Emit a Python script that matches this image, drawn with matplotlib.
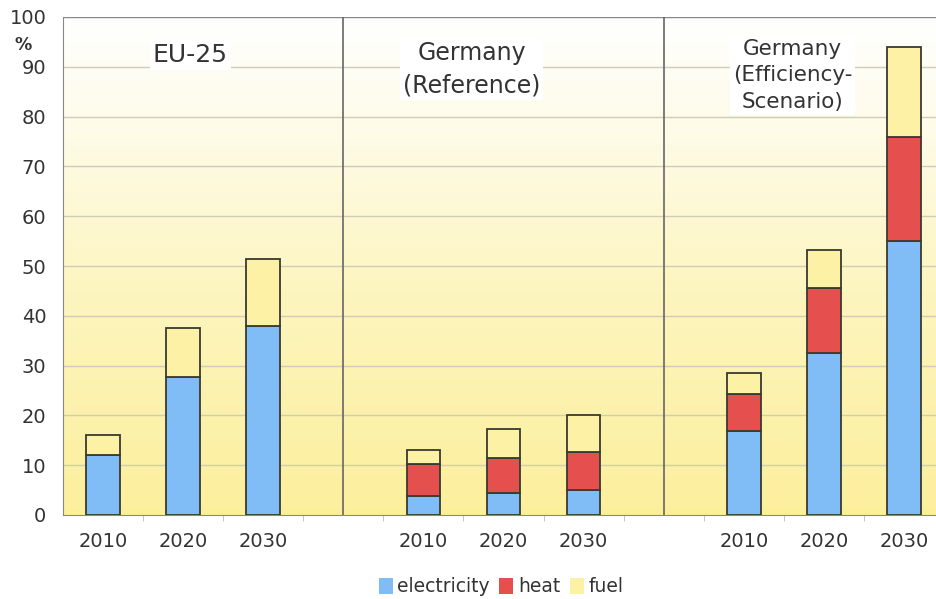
import numpy as np
import matplotlib.pyplot as plt
from matplotlib.colors import LinearSegmentedColormap
from matplotlib.patches import Patch

# ==== DATA ====
YEARS = ["2010", "2020", "2030"]
GROUPS = ["EU-25", "Germany\n(Reference)", "Germany\n(Efficiency-\nScenario)"]
ELECTRICITY = [12.0, 27.7, 38.0, 3.8, 4.5, 5.0, 16.8, 32.5, 55.0]
HEAT = [0.0, 0.0, 0.0, 6.4, 7.0, 7.7, 7.4, 13.0, 21.0]
FUEL = [4.0, 9.8, 13.5, 2.8, 5.8, 7.3, 4.3, 7.8, 18.0]

# ==== STYLE ====
C_ELEC = "#80bdf7"
C_HEAT = "#e5504e"
C_FUEL = "#fdf1a6"
EDGE = "#3a3a30"
TXT = "#333333"

# positions: 3 bars per group, one empty slot between groups
pos = []
for g in range(3):
    for i in range(3):
        pos.append(g * 4 + i)
pos = np.array(pos)
elec = np.array(ELECTRICITY)
heat = np.array(HEAT)
fuel = np.array(FUEL)

fig = plt.figure(figsize=(9.36, 5.99), dpi=100)
ax = fig.add_axes([63 / 936, 1 - 515 / 599, 1 - 63 / 936 + 8 / 936, (515 - 17) / 599])
ax.set_xlim(-0.5, 10.5)
ax.set_ylim(0, 100)

# background gradient (white at top, yellow at bottom)
cmap = LinearSegmentedColormap.from_list(
    "bg", [(0, "#fcef9c"), (0.45, "#fdf5bf"), (0.75, "#fefbe6"), (1, "#ffffff")])
grad = np.linspace(0, 1, 256).reshape(-1, 1)
ax.imshow(grad, aspect="auto", cmap=cmap, extent=[-0.5, 10.5, 0, 100],
          origin="lower", zorder=0)

for y in range(10, 100, 10):
    ax.axhline(y, color="#cfcdb8", lw=1.0, zorder=1)
ax.axhline(100, color="#888888", lw=1.0, zorder=1)
for x in [3, 7]:
    ax.axvline(x, color="#666666", lw=1.2, zorder=1)

w = 0.42
kw = dict(width=w, edgecolor=EDGE, linewidth=1.3, zorder=3)
ax.bar(pos, elec, color=C_ELEC, **kw)
has_heat = heat > 0
ax.bar(pos[has_heat], heat[has_heat], bottom=elec[has_heat], color=C_HEAT, **kw)
ax.bar(pos, fuel, bottom=elec + heat, color=C_FUEL, **kw)

# group headers
head_x = [1.09, 4.6, 8.61]
head_y = [94.8, 95.2, 95.6]
head_fs = [18, 17, 15.5]
head_ls = [1.2, 1.45, 1.4]
for g, label in enumerate(GROUPS):
    ax.text(head_x[g], head_y[g], label, ha="center", va="top",
            fontsize=head_fs[g], color=TXT, linespacing=head_ls[g], zorder=4,
            bbox=dict(facecolor="white", edgecolor="none", pad=2))

# axes
ax.set_yticks(range(0, 101, 10))
ax.set_xticks(pos)
ax.set_xticklabels(YEARS * 3)
ax.set_xticks(np.arange(0.5, 10.5, 1), minor=True)
ax.tick_params(axis="x", which="major", length=0, pad=12, labelsize=14,
               labelcolor=TXT)
ax.tick_params(axis="x", which="minor", length=4, color="#bbbbbb")
ax.tick_params(axis="y", length=0, pad=12, labelsize=14, labelcolor=TXT)
for s in ["top", "right"]:
    ax.spines[s].set_visible(False)
ax.spines["left"].set_color("#888888")
ax.spines["bottom"].set_color("#888888")
fig.text(23 / 936, 1 - 45 / 599, "%", fontsize=12.5, fontweight="bold",
         color=TXT, ha="center", va="center")

handles = [Patch(facecolor=C_ELEC, edgecolor="none", label="electricity"),
           Patch(facecolor=C_HEAT, edgecolor="none", label="heat"),
           Patch(facecolor=C_FUEL, edgecolor="none", label="fuel")]
fig.legend(handles=handles, loc="center", bbox_to_anchor=(501 / 936, 1 - 587 / 599),
           ncol=3, frameon=False, fontsize=13.5, handlelength=0.75,
           handleheight=0.9, handletextpad=0.25, columnspacing=0.5,
           labelcolor=TXT)

fig.savefig("out.png", dpi=100)
